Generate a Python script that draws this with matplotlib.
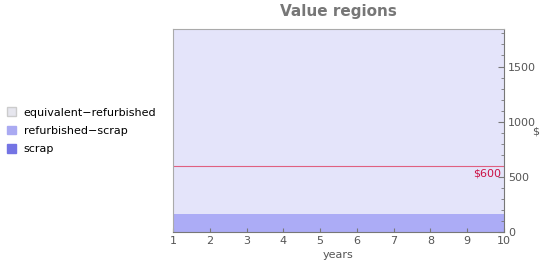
import matplotlib.pyplot as plt
import matplotlib.patches as mpatches

# data
years = [1, 2, 3, 4, 5, 6, 7, 8, 9, 10]
equivalent_refurbished = [1840, 1840, 1840, 1840, 1840, 1840, 1840, 1840, 1840, 1840]
refurbished_scrap = [165, 165, 165, 165, 165, 165, 165, 165, 165, 165]
scrap = [4, 4, 4, 4, 4, 4, 4, 4, 4, 4]
threshold = 600
region_labels = ["equivalent\u2212refurbished", "refurbished\u2212scrap", "scrap"]
x_ticks = [1, 2, 3, 4, 5, 6, 7, 8, 9, 10]
y_ticks = [0, 500, 1000, 1500]

GREY = "#777777"

fig = plt.figure(figsize=(5.4, 2.65), dpi=100)
ax = fig.add_axes([173 / 540, 33 / 265, 331 / 540, 203 / 265])

ax.fill_between(years, refurbished_scrap, equivalent_refurbished, color="#e4e4fa", lw=0)
ax.fill_between(years, scrap, refurbished_scrap, color="#acacf6", lw=0)
ax.fill_between(years, 0, scrap, color="#8080e6", lw=0)
ax.axhline(threshold, color="#e06080", lw=0.8)
ax.text(9.93, threshold - 20, "$" + str(threshold), color="#cc1144",
        fontsize=8, ha="right", va="top")

ax.set_xlim(1, 10)
ax.set_ylim(0, 1840)
ax.set_xticks(x_ticks)
ax.set_yticks(y_ticks)
ax.yaxis.tick_right()
ax.yaxis.set_label_position("right")
ax.minorticks_on()
ax.xaxis.set_minor_locator(plt.NullLocator())
ax.tick_params(axis="both", which="both", colors=GREY, labelsize=8,
               direction="in", labelcolor="#555555")
ax.tick_params(axis="x", length=3, pad=3)
ax.tick_params(axis="y", which="major", length=4, pad=3)
ax.tick_params(axis="y", which="minor", length=2)
for s in ax.spines.values():
    s.set_color("#aaaaaa")
    s.set_linewidth(0.8)
ax.spines["bottom"].set_color(GREY)
ax.spines["right"].set_color(GREY)

ax.set_xlabel("years", fontsize=8, color="#555555", labelpad=3)
ax.set_ylabel("$", fontsize=8, color="#555555", rotation=0)
ax.yaxis.set_label_coords(1.095, 0.52)

fig.text((173 + 504) / 2 / 540, 0.955, "Value regions",
         ha="center", va="center", fontsize=11, fontweight="bold", color=GREY)

patches = [
    mpatches.Patch(facecolor="#e6e6ee", edgecolor="#cccccc", label=region_labels[0]),
    mpatches.Patch(facecolor="#aaaaf2", edgecolor="#aaaaf2", label=region_labels[1]),
    mpatches.Patch(facecolor="#7474e4", edgecolor="#7474e4", label=region_labels[2]),
]
fig.legend(handles=patches, loc="center left", bbox_to_anchor=(0.005, 0.506),
           frameon=False, fontsize=8, handlelength=0.8, handleheight=0.8,
           handletextpad=0.7, labelspacing=0.75, borderaxespad=0.0)

fig.savefig("out.png", dpi=100)
